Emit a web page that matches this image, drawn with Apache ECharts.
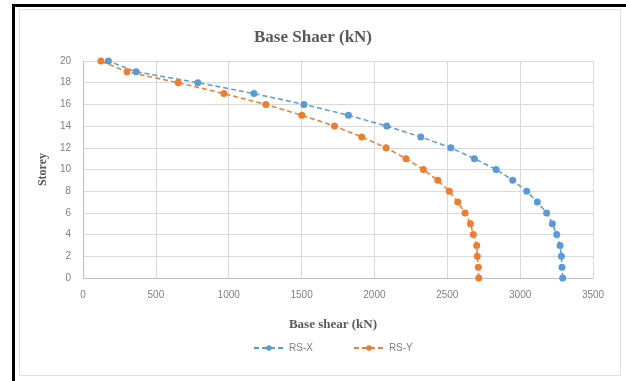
<!DOCTYPE html>
<html>
<head>
<meta charset="utf-8">
<script src="https://cdn.jsdelivr.net/npm/echarts@6/dist/echarts.min.js"></script>
<style>
  html, body { margin: 0; padding: 0; background: #fff; }
  #frame { position: absolute; left: 12px; top: 4px; width: 614px; height: 377px;
           border-left: 3px solid #000; border-top: 3px solid #000; box-sizing: border-box; }
  #inner { position: absolute; left: 19px; top: 9px; width: 602px; height: 367px;
           border: 1px solid #e0e0e0; box-sizing: border-box; }
  #chart { position: absolute; left: 0; top: 0; width: 626px; height: 381px; }
</style>
</head>
<body>
<div id="frame"></div>
<div id="inner"></div>
<div id="chart"></div>
<script>
// Storey levels and base shear (kN) per response-spectrum direction
const storeys = [0, 1, 2, 3, 4, 5, 6, 7, 8, 9, 10, 11, 12, 13, 14, 15, 16, 17, 18, 19, 20];
const rsX = [3292, 3287, 3283, 3274, 3251, 3221, 3182, 3118, 3045, 2949, 2835, 2686, 2524, 2318, 2085, 1822, 1516, 1173, 788, 365, 174];
const rsY = [2716, 2713, 2706, 2702, 2679, 2659, 2622, 2572, 2514, 2435, 2336, 2217, 2080, 1913, 1726, 1502, 1255, 967, 654, 302, 123];
const seriesNames = ['RS-X', 'RS-Y'];
const colors = ['#5b9bd5', '#ed7d31'];

const pairs = (vals) => vals.map((v, i) => [v, storeys[i]]);

const chart = echarts.init(document.getElementById('chart'), null, { renderer: 'canvas' });
const tickFont = { fontFamily: 'Liberation Sans', fontSize: 10, color: '#7f7f7f' };
const nameFont = { fontFamily: 'Liberation Serif', fontWeight: 'bold', fontSize: 12, color: '#595959' };

chart.setOption({
  backgroundColor: 'transparent',
  animation: false,
  title: {
    text: 'Base Shaer (kN)',
    left: 'center',
    top: 24,
    textStyle: { fontFamily: 'Liberation Serif', fontWeight: 'bold', fontSize: 17, color: '#595959' }
  },
  legend: {
    data: seriesNames,
    bottom: 23,
    left: 248,
    itemWidth: 30,
    itemHeight: 7,
    itemGap: 40,
    textStyle: { fontFamily: 'Liberation Sans', fontSize: 10, color: '#7f7f7f' }
  },
  grid: { left: 83, right: 33, top: 61, bottom: 103 },
  xAxis: {
    type: 'value',
    min: 0, max: 3500, interval: 500,
    name: 'Base shear (kN)',
    nameLocation: 'middle',
    nameGap: 40,
    nameTextStyle: Object.assign({}, nameFont, { fontSize: 13, padding: [0, 10, 0, 0] }),
    axisLine: { show: true, lineStyle: { color: '#bfbfbf' } },
    axisTick: { show: false },
    axisLabel: Object.assign({ margin: 12, formatter: (v) => String(v) }, tickFont),
    splitLine: { show: true, lineStyle: { color: '#d9d9d9' } }
  },
  yAxis: {
    type: 'value',
    min: 0, max: 20, interval: 2,
    name: 'Storey',
    nameLocation: 'middle',
    nameGap: 31,
    nameRotate: 90,
    nameTextStyle: nameFont,
    axisLine: { show: true, lineStyle: { color: '#bfbfbf' } },
    axisTick: { show: false },
    axisLabel: Object.assign({ margin: 12 }, tickFont),
    splitLine: { show: true, lineStyle: { color: '#d9d9d9' } }
  },
  series: [rsX, rsY].map((vals, k) => ({
    name: seriesNames[k],
    type: 'line',
    data: pairs(vals),
    symbol: 'circle',
    symbolSize: 7,
    itemStyle: { color: colors[k] },
    lineStyle: { color: colors[k], width: 1.5, type: [5, 3] }
  }))
});
</script>
</body>
</html>
